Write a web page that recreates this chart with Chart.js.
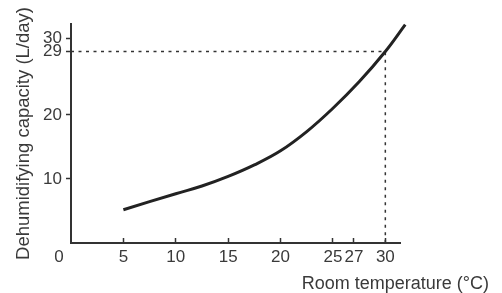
<!DOCTYPE html>
<html>
<head>
<meta charset="utf-8">
<script src="https://cdn.jsdelivr.net/npm/chart.js@4.4.1/dist/chart.umd.min.js"></script>
<style>
    html, body { margin: 0; padding: 0; background: #fff; }
    #wrap { width: 502px; height: 293px; position: relative; }
</style>
</head>
<body>
<div id="wrap"><canvas id="capacityChart"></canvas></div>
<script>
// Room temperature (°C) -> dehumidifying capacity (L/day)
const temperatures = [5, 10, 12.5, 15, 17.5, 20, 22.5, 25, 27.5, 30, 31.9];
const capacities = [5.2, 7.7, 8.9, 10.4, 12.2, 14.4, 17.4, 20.95, 24.7, 29.0, 31.1];

// rated point, marked with the dotted guide lines
const ratedTemperature = 30;
const ratedCapacity = 29;

const xTicks = [5, 10, 15, 20, 25, 27, 30];
const yTicks = [10, 20, 29, 30];
const originLabel = "0";

const fontFamily = "'Liberation Sans', Arial, Helvetica, sans-serif";
const textColor = "#3a3a3a";
const axisColor = "#333333";
const tickFontSize = 17;

Chart.defaults.font.family = fontFamily;
Chart.defaults.color = textColor;

// The printed y axis is not to scale above 20: 29 sits roughly where 30
// would be and the 29 -> 30 step is drawn about twice as tall.
function stretch(v) {
    if (v <= 20) return v;
    if (v <= 29) return 20 + (v - 20) * 1.1;
    return 29.9 + (v - 29) * 2;
}

function unstretch(v) {
    if (v <= 20) return v;
    if (v <= 29.9) return 20 + (v - 20) / 1.1;
    return 29 + (v - 29.9) / 2;
}

class StretchedScale extends Chart.LinearScale {
    getPixelForValue(value) {
        return value === null ? NaN : super.getPixelForValue(stretch(value));
    }
    getValueForPixel(pixel) {
        return unstretch(super.getValueForPixel(pixel));
    }
}
StretchedScale.id = "stretched";
StretchedScale.defaults = Chart.LinearScale.defaults;
Chart.register(StretchedScale);

// the shared "0" sits in the corner, left of the origin
const originLabelPlugin = {
    id: "originLabel",
    afterDraw(chart) {
        const xs = chart.scales.x;
        const ctx = chart.ctx;
        const lineHeight = tickFontSize * 1.2;
        const y = xs.top + xs.options.grid.tickLength + xs.options.ticks.padding + lineHeight / 2;
        ctx.save();
        ctx.font = tickFontSize + "px " + fontFamily;
        ctx.fillStyle = textColor;
        ctx.textAlign = "center";
        ctx.textBaseline = "middle";
        ctx.fillText(originLabel, xs.getPixelForValue(0) - 12, y);
        ctx.restore();
    },
};

const curvePoints = temperatures.map((t, i) => ({ x: t, y: capacities[i] }));
const guidePoints = [
    { x: 0, y: ratedCapacity },
    { x: ratedTemperature, y: ratedCapacity },
    { x: ratedTemperature, y: 0 },
];

new Chart(document.getElementById("capacityChart"), {
    type: "line",
    data: {
        datasets: [
            {
                label: "Dehumidifying capacity",
                data: curvePoints,
                borderColor: "#222222",
                borderWidth: 3,
                pointRadius: 0,
                tension: 0.4,
                clip: false,
                order: 0,
            },
            {
                label: "Rated",
                data: guidePoints,
                borderColor: axisColor,
                borderWidth: 1.5,
                borderDash: [3, 4.5],
                pointRadius: 0,
                tension: 0,
                order: 1,
            },
        ],
    },
    options: {
        responsive: true,
        maintainAspectRatio: false,
        animation: false,
        layout: { padding: { top: 24, right: 13, bottom: 0, left: 0 } },
        plugins: {
            legend: { display: false },
            tooltip: { enabled: false },
            title: {
                display: true,
                text: "Room temperature (°C)",
                position: "bottom",
                align: "end",
                color: textColor,
                font: { size: 18, weight: "normal", lineHeight: 1 },
                padding: { top: 5, bottom: 0 },
            },
        },
        scales: {
            x: {
                type: "linear",
                min: 0,
                max: 31.4,
                bounds: "data",
                afterBuildTicks: (s) => {
                    s.ticks = xTicks.map((v) => ({ value: v }));
                },
                afterFit: (s) => {
                    s.height = 27;
                },
                border: { color: axisColor, width: 2 },
                grid: {
                    drawOnChartArea: false,
                    tickLength: -5,
                    tickColor: axisColor,
                    tickWidth: 1.5,
                },
                ticks: {
                    color: textColor,
                    font: { size: tickFontSize },
                    padding: 9,
                    autoSkip: false,
                    maxRotation: 0,
                },
            },
            y: {
                type: "stretched",
                min: 0,
                max: 34.2,
                bounds: "data",
                afterBuildTicks: (s) => {
                    s.ticks = yTicks.map((v) => ({ value: v }));
                },
                afterFit: (s) => {
                    s.width = 71;
                },
                border: { color: axisColor, width: 2 },
                grid: {
                    drawOnChartArea: false,
                    tickLength: 5,
                    tickColor: axisColor,
                    tickWidth: 1.5,
                },
                ticks: {
                    color: textColor,
                    font: { size: tickFontSize },
                    padding: 4,
                    autoSkip: false,
                    callback: (v) => String(v),
                },
                title: {
                    display: true,
                    text: "Dehumidifying capacity (L/day)",
                    color: textColor,
                    font: { size: 18.5 },
                    padding: { top: 13, bottom: 0 },
                },
            },
            // empty space on the right so the axis title can run past the x axis
            spacer: {
                type: "linear",
                position: "right",
                grid: { display: false },
                border: { display: false },
                ticks: { display: false },
                afterFit: (s) => {
                    s.width = 89;
                },
            },
        },
    },
    plugins: [originLabelPlugin],
});
</script>
</body>
</html>
